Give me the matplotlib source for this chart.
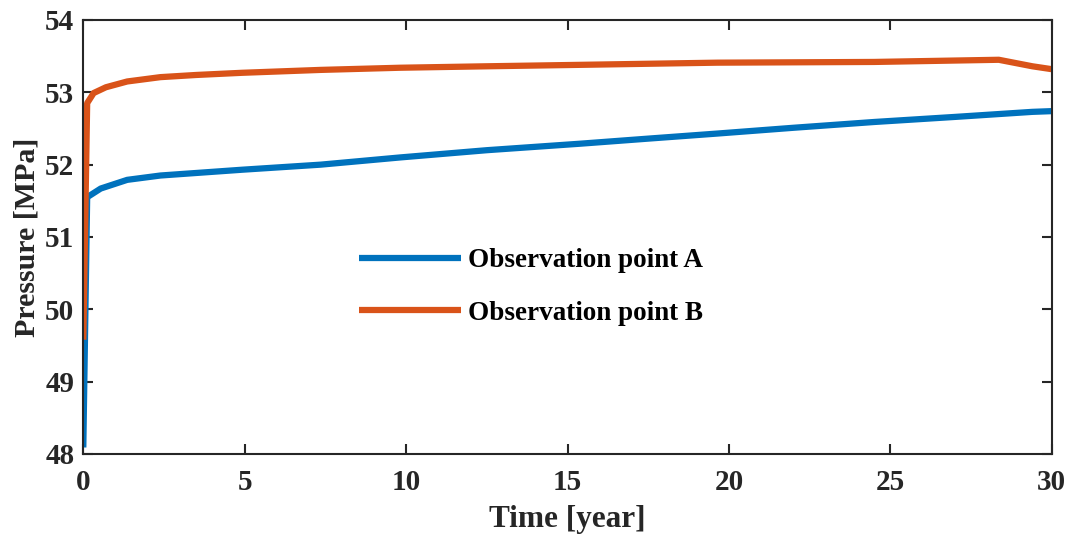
import matplotlib
matplotlib.use("Agg")
import matplotlib.pyplot as plt

# Pressure histories at the two observation points
time_a = [0, 0.12, 0.54, 1.36, 2.39, 4.92, 7.0, 7.35, 9.82,
          12.5, 15.4, 17.5, 19.64, 22.0, 24.5, 27.0, 29.4, 30.0]
pressure_a = [48.09, 51.55, 51.67, 51.79, 51.85, 51.93, 51.99, 52.00, 52.10,
              52.20, 52.29, 52.36, 52.43, 52.51, 52.59, 52.66, 52.73, 52.74]

time_b = [0, 0.12, 0.32, 0.7, 1.36, 2.39, 3.5, 4.92, 7.35, 9.82, 12.5,
          15.4, 19.64, 24.5, 28.36, 29.4, 30.0]
pressure_b = [49.58, 52.85, 52.99, 53.07, 53.15, 53.21, 53.24, 53.27, 53.31,
              53.34, 53.36, 53.38, 53.41, 53.42, 53.45, 53.36, 53.32]

labels = ["Observation point A", "Observation point B"]
x_ticks = [0, 5, 10, 15, 20, 25, 30]
y_ticks = [48, 49, 50, 51, 52, 53, 54]

plt.rcParams["font.family"] = ["Liberation Serif", "DejaVu Serif"]
plt.rcParams["font.weight"] = "bold"

fig = plt.figure(figsize=(10.72, 5.36), dpi=100)
ax = fig.add_axes([0.0777, 0.1530, 0.9034, 0.8097])

ax.plot(time_a, pressure_a, color="#0072BD", lw=4.5, solid_capstyle="butt",
        label=labels[0])
ax.plot(time_b, pressure_b, color="#D95319", lw=4.5, solid_capstyle="butt",
        label=labels[1])

ax.set_xlim(0, 30)
ax.set_ylim(48, 54)
ax.set_xticks(x_ticks)
ax.set_yticks(y_ticks)
ax.tick_params(direction="in", length=7.5, width=1.5, colors="#262626",
               labelsize=21, top=True, right=True)
ax.tick_params(axis="x", pad=10.5)
ax.tick_params(axis="y", pad=6.5)
for lab in ax.get_xticklabels() + ax.get_yticklabels():
    lab.set_fontweight("bold")
for sp in ax.spines.values():
    sp.set_linewidth(1.5)
    sp.set_color("#262626")

ax.set_xlabel("Time [year]", fontsize=22.5, fontweight="bold", color="#262626",
              labelpad=6.5)
ax.set_ylabel("Pressure [MPa]", fontsize=21.5, fontweight="bold", color="#262626",
              labelpad=3)

ax.legend(loc="upper left", bbox_to_anchor=(0.273, 0.499), frameon=False,
          prop={"size": 19.5, "weight": "bold"}, handlelength=3.78,
          handletextpad=0.26, labelspacing=1.01, borderaxespad=0)

fig.savefig("out.png", dpi=100)
